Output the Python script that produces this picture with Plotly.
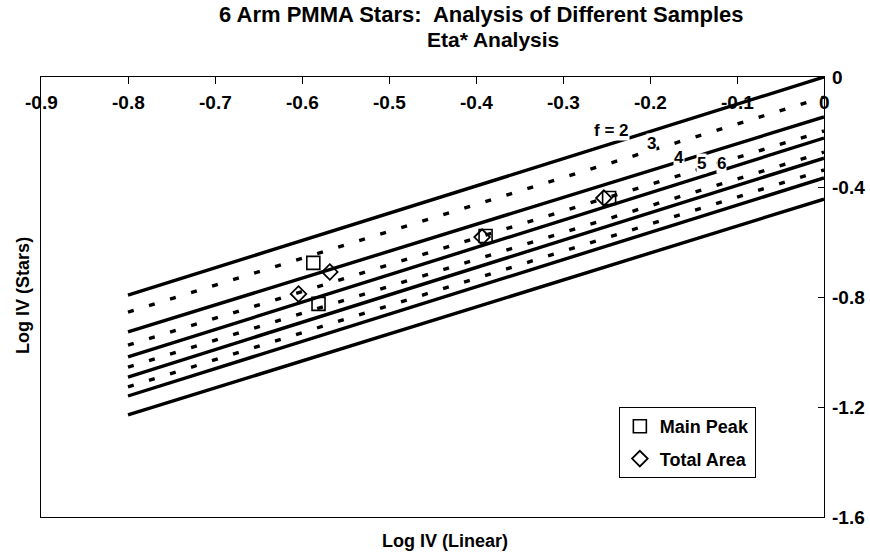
import plotly.graph_objects as go

# Reference lines: log IV (stars) vs log IV (linear), end points at x = -0.8 and x = 0
line_x = [-0.8, 0.0]
line_start = [-0.793, -0.855, -0.927, -0.975, -1.018, -1.055, -1.091, -1.127, -1.160, -1.229]
line_end = [0.0, -0.073, -0.145, -0.196, -0.222, -0.273, -0.295, -0.338, -0.367, -0.444]
line_dash = ["solid", "dash", "solid", "dash", "solid", "dash", "solid", "dash", "solid", "solid"]

# Measured samples
main_peak_x = [-0.587, -0.581, -0.389, -0.247]
main_peak_y = [-0.676, -0.825, -0.578, -0.440]
total_area_x = [-0.568, -0.604, -0.393, -0.253]
total_area_y = [-0.709, -0.789, -0.582, -0.440]

# Arm-number labels along the lines
f_labels = ["f = 2", "3", "4", "5", "6"]
f_label_x = [-0.244, -0.198, -0.167, -0.141, -0.118]
f_label_y = [-0.193, -0.240, -0.291, -0.316, -0.316]

x_ticks = [-0.9, -0.8, -0.7, -0.6, -0.5, -0.4, -0.3, -0.2, -0.1, 0.0]
x_tick_text = ["-0.9", "-0.8", "-0.7", "-0.6", "-0.5", "-0.4", "-0.3", "-0.2", "-0.1", "0"]
y_ticks = [0.0, -0.4, -0.8, -1.2, -1.6]
y_tick_text = ["0", "-0.4", "-0.8", "-1.2", "-1.6"]

FONT = "Liberation Sans, Arial, sans-serif"
BOLD = lambda size: dict(family=FONT, size=size, color="black", weight="bold")

fig = go.Figure()

for y0, y1, dash in zip(line_start, line_end, line_dash):
    fig.add_trace(go.Scatter(
        x=line_x, y=[y0, y1], mode="lines", showlegend=False, hoverinfo="skip",
        line=dict(color="black", width=3.4, dash="solid" if dash == "solid" else "6px,16px"),
    ))

fig.add_trace(go.Scatter(
    x=main_peak_x, y=main_peak_y, mode="markers", name="Main Peak", legendgroup="a",
    marker=dict(symbol="square-open", size=13, color="black", line=dict(width=1.6)),
))
fig.add_trace(go.Scatter(
    x=total_area_x, y=total_area_y, mode="markers", name="Total Area", legendgroup="b",
    marker=dict(symbol="diamond-open", size=12, color="black", line=dict(width=1.8)),
))

for txt, lx, ly in zip(f_labels, f_label_x, f_label_y):
    fig.add_annotation(x=lx, y=ly, text=txt, showarrow=False, xref="x", yref="y",
                       font=BOLD(17), bgcolor="white", borderpad=0)

# Tick labels: x labels sit just under the top axis line, y labels right of the right axis
for tv, tt in zip(x_ticks, x_tick_text):
    fig.add_annotation(x=tv, y=0.941, xref="x", yref="paper", text=tt, showarrow=False,
                       xanchor="center", yanchor="middle", font=BOLD(19))
for tv, tt in zip(y_ticks, y_tick_text):
    fig.add_annotation(x=1.0, y=tv, xref="paper", yref="y", text=tt, showarrow=False,
                       xanchor="left", yanchor="middle", xshift=6, font=BOLD(19))

fig.add_annotation(x=0.516, y=-0.055, xref="paper", yref="paper", text="Log IV (Linear)",
                   showarrow=False, xanchor="center", yanchor="middle", font=BOLD(18))
fig.add_annotation(x=-0.024, y=0.503, xref="paper", yref="paper", text="Log IV (Stars)",
                   showarrow=False, textangle=-90, xanchor="center", yanchor="middle",
                   font=BOLD(18))

fig.add_annotation(x=0.562, y=1.0, xref="paper", yref="paper", yshift=63,
                   text="6 Arm PMMA Stars:  Analysis of Different Samples",
                   showarrow=False, xanchor="center", yanchor="middle", font=BOLD(22))
fig.add_annotation(x=0.577, y=1.0, xref="paper", yref="paper", yshift=38,
                   text="Eta* Analysis",
                   showarrow=False, xanchor="center", yanchor="middle", font=BOLD(21))

fig.update_layout(
    width=870, height=559,
    margin=dict(l=41, r=46, t=77, b=42),
    paper_bgcolor="white", plot_bgcolor="white",
    font=dict(family=FONT, color="black"),
    showlegend=True,
    legend=dict(
        x=0.738, y=0.25, xanchor="left", yanchor="top",
        bordercolor="black", borderwidth=1, bgcolor="white",
        font=BOLD(18), tracegroupgap=6, itemwidth=30,
    ),
    xaxis=dict(
        range=[-0.9, 0.0], side="top", tickvals=x_ticks, showticklabels=False,
        ticks="inside", ticklen=7, tickcolor="black",
        showline=True, linecolor="black", linewidth=1, mirror=True,
        showgrid=False, zeroline=False,
    ),
    yaxis=dict(
        range=[-1.6, 0.0], side="right", tickvals=y_ticks, showticklabels=False,
        ticks="inside", ticklen=6, tickcolor="black",
        showline=True, linecolor="black", linewidth=1, mirror=True,
        showgrid=False, zeroline=False,
    ),
)

fig.write_html("out.html")
